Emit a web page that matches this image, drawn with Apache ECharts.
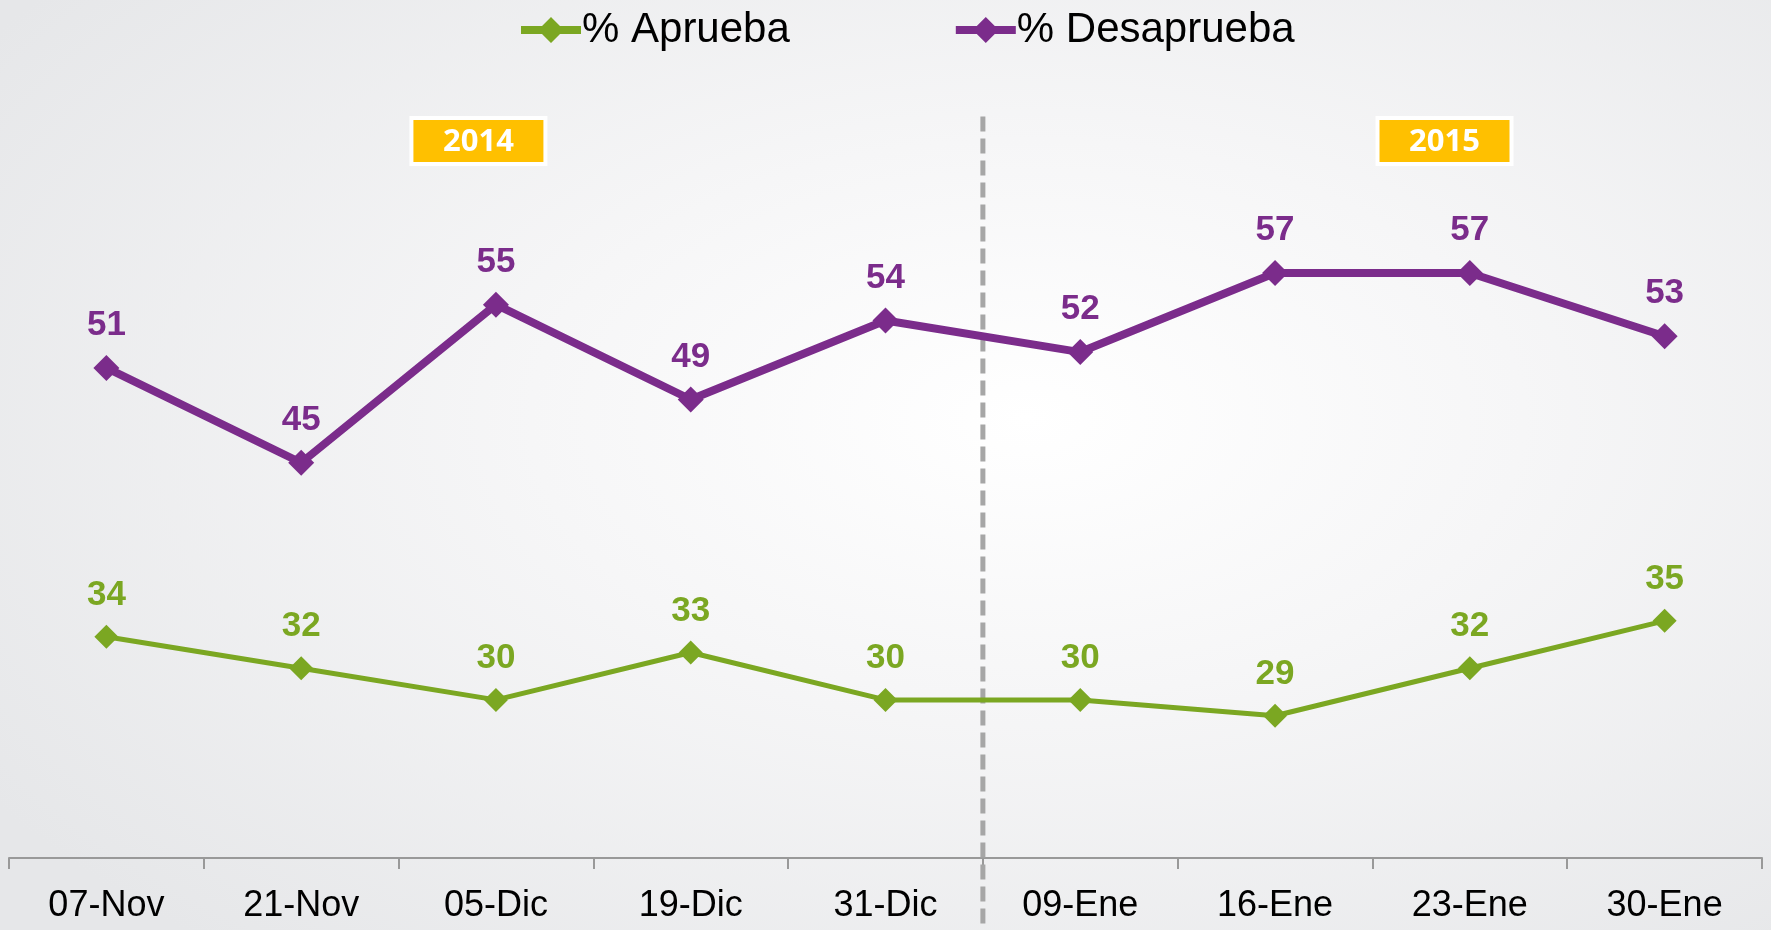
<!DOCTYPE html>
<html>
<head>
<meta charset="utf-8">
<script src="https://cdn.jsdelivr.net/npm/echarts@6/dist/echarts.min.js"></script>
<style>
html,body{margin:0;padding:0;}
#c{width:1771px;height:930px;background:radial-gradient(ellipse 70% 75% at 58% 45%, #ffffff 0%, #f6f6f7 40%, #e6e7e9 100%);}
</style>
</head>
<body>
<div id="c"></div>
<script>
const categories = ['07-Nov','21-Nov','05-Dic','19-Dic','31-Dic','09-Ene','16-Ene','23-Ene','30-Ene'];
const aprueba = [34,32,30,33,30,30,29,32,35];
const desaprueba = [51,45,55,49,54,52,57,57,53];
const seriesNames = ['% Aprueba','% Desaprueba'];
const yearLabels = ['2014','2015'];
const yearPos = [1.91, 6.87];     // position along category index scale
const yearY = 65.35;              // value-scale height of year boxes
const dividerAt = 4.5;            // between 31-Dic and 09-Ene
const dividerTop = 66.9;

const GREEN = '#7BA722';
const PURPLE = '#7B2C8B';
const FONT = '"Liberation Sans", Arial, sans-serif';
const LEGEND_ICON = 'path://M0,9 L21,9 L30,0 L39,9 L60,9 L60,17 L39,17 L30,26 L21,17 L0,17 Z';

const chart = echarts.init(document.getElementById('c'));
chart.setOption({
  backgroundColor: 'transparent',
  animation: false,
  legend: {
    top: 4, left: 516,
    itemWidth: 60, itemHeight: 26, itemGap: 166,
    textStyle: {fontFamily: FONT, fontSize: 42, color: '#000', padding: [0,0,0,-4]},
    data: [
      {name: seriesNames[0], icon: LEGEND_ICON, itemStyle: {color: GREEN}},
      {name: seriesNames[1], icon: LEGEND_ICON, itemStyle: {color: PURPLE}}
    ]
  },
  grid: {left: 9, right: 9, top: 67.5, bottom: 72},
  xAxis: [{
    type: 'category', data: categories, boundaryGap: true,
    axisLine: {show: true, lineStyle: {color: '#999', width: 2}},
    axisTick: {show: true, interval: 0, length: 11, lineStyle: {color: '#999', width: 2}},
    axisLabel: {fontFamily: FONT, fontSize: 36, color: '#000', margin: 30}
  },{
    type: 'value', min: -0.5, max: 8.5, show: false
  }],
  yAxis: {type: 'value', min: 20, max: 70, show: false, splitLine: {show: false}},
  series: [{
    name: seriesNames[0], type: 'line', data: aprueba,
    symbol: 'diamond', symbolSize: 24,
    lineStyle: {color: GREEN, width: 5}, itemStyle: {color: GREEN},
    label: {show: true, position: 'top', distance: 12, color: GREEN, fontFamily: FONT, fontWeight: 'bold', fontSize: 35}
  },{
    name: seriesNames[1], type: 'line', data: desaprueba,
    symbol: 'diamond', symbolSize: 26,
    lineStyle: {color: PURPLE, width: 8}, itemStyle: {color: PURPLE},
    label: {show: true, position: 'top', distance: 12, color: PURPLE, fontFamily: FONT, fontWeight: 'bold', fontSize: 35}
  }]
});

function drawAnnotations(){
  const h = chart.getHeight();
  const dx = chart.convertToPixel({xAxisIndex:1}, dividerAt);
  const dy = chart.convertToPixel({yAxisIndex:0}, dividerTop);
  const g = [{
    type: 'line', z: 1,
    shape: {x1: dx, y1: dy, x2: dx, y2: h},
    style: {stroke: '#A6A6A6', lineWidth: 5, lineDash: [15, 7]}
  }];
  yearLabels.forEach((t, i) => {
    const cx = chart.convertToPixel({xAxisIndex:1}, yearPos[i]);
    const cy = chart.convertToPixel({yAxisIndex:0}, yearY);
    g.push({
      type: 'rect', z: 5,
      shape: {x: cx - 67, y: cy - 23, width: 134, height: 46},
      style: {fill: '#FFC000', stroke: '#ffffff', lineWidth: 4}
    });
    g.push({
      type: 'text', z: 6, x: cx, y: cy + 1,
      style: {text: t, fill: '#fff', font: 'bold 31px "Open Sans", "Liberation Sans", sans-serif', textAlign: 'center', textVerticalAlign: 'middle'}
    });
  });
  chart.setOption({graphic: g});
}
drawAnnotations();
</script>
</body>
</html>
